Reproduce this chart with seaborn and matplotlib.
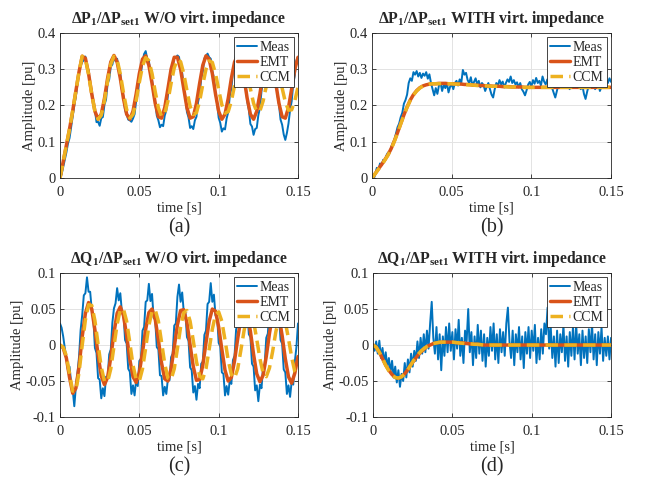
import numpy as np
import seaborn as sns
import matplotlib
matplotlib.use("Agg")
import matplotlib.pyplot as plt

sns.set_style("ticks")
plt.rcParams['font.family'] = ['Liberation Serif', 'DejaVu Serif']
plt.rcParams['mathtext.fontset'] = 'custom'
plt.rcParams['mathtext.rm'] = 'Liberation Serif'
plt.rcParams['mathtext.it'] = 'Liberation Serif:italic'
plt.rcParams['mathtext.bf'] = 'Liberation Serif:bold'

# sample spacing of the traces (s)
dt_meas = 0.001
dt_model = 0.002

# ---- (a) dP1 / dPset1 W/O virtual impedance ----
meas_a = [0.000, 0.010, 0.030, 0.050, 0.070, 0.095, 0.110, 0.140, 0.170, 0.200,
          0.225, 0.260, 0.290, 0.310, 0.320,
          0.325, 0.335, 0.308, 0.297, 0.257, 0.241, 0.202, 0.187, 0.154, 0.155,
          0.144, 0.165, 0.168, 0.202, 0.216, 0.260, 0.272, 0.307, 0.313, 0.335,
          0.322, 0.329, 0.300, 0.288, 0.244, 0.225, 0.187, 0.175, 0.161, 0.159,
          0.155, 0.164, 0.176, 0.213, 0.232, 0.273, 0.288, 0.321, 0.342, 0.350,
          0.328, 0.324, 0.288, 0.272, 0.229, 0.209, 0.172, 0.159, 0.140, 0.147,
          0.143, 0.172, 0.186, 0.228, 0.246, 0.288, 0.303, 0.333, 0.332, 0.338,
          0.334, 0.305, 0.290, 0.245, 0.224, 0.182, 0.167, 0.138, 0.143, 0.135,
          0.159, 0.169, 0.209, 0.230, 0.274, 0.293, 0.330, 0.337, 0.343, 0.333,
          0.329, 0.295, 0.276, 0.231, 0.206, 0.166, 0.152, 0.128, 0.137, 0.134,
          0.164, 0.181, 0.225, 0.247, 0.292, 0.310, 0.344, 0.346, 0.352, 0.332,
          0.322, 0.282, 0.258, 0.211, 0.188, 0.149, 0.142, 0.119, 0.135, 0.138,
          0.173, 0.193, 0.240, 0.266, 0.309, 0.326, 0.344, 0.343, 0.334, 0.328,
          0.299, 0.275, 0.229, 0.203, 0.161, 0.147, 0.120, 0.105, 0.124, 0.150,
          0.187, 0.211, 0.259, 0.283, 0.324, 0.334]
emt_a = [0.000, 0.045, 0.090, 0.135, 0.185, 0.240, 0.293, 0.336, 0.330, 0.288,
         0.232, 0.184, 0.162, 0.176, 0.219, 0.275, 0.320, 0.338, 0.320, 0.275,
         0.219, 0.176, 0.162, 0.184, 0.232, 0.288, 0.328, 0.337, 0.311, 0.261,
         0.206, 0.169, 0.165, 0.194, 0.246, 0.300, 0.333, 0.333, 0.300, 0.246,
         0.194, 0.165, 0.169, 0.206, 0.261, 0.311, 0.337, 0.328, 0.288, 0.232,
         0.184, 0.162, 0.176, 0.219, 0.275, 0.320, 0.338, 0.320, 0.275, 0.219,
         0.176, 0.162, 0.184, 0.232, 0.288, 0.328, 0.337, 0.311, 0.261, 0.206,
         0.169, 0.165, 0.194, 0.246, 0.300, 0.333]
ccm_a = [0.000, 0.045, 0.090, 0.135, 0.185, 0.240, 0.293, 0.336,
         0.328, 0.286, 0.231, 0.184, 0.162, 0.173, 0.213, 0.267, 0.314, 0.336,
         0.326, 0.287, 0.235, 0.189, 0.166, 0.175, 0.213, 0.264, 0.309, 0.332,
         0.324, 0.288, 0.238, 0.193, 0.170, 0.178, 0.212, 0.261, 0.304, 0.327,
         0.321, 0.288, 0.241, 0.198, 0.175, 0.180, 0.212, 0.258, 0.300, 0.323,
         0.319, 0.288, 0.244, 0.202, 0.179, 0.183, 0.212, 0.255, 0.296, 0.319,
         0.316, 0.288, 0.246, 0.206, 0.183, 0.185, 0.212, 0.253, 0.292, 0.315,
         0.313, 0.288, 0.248, 0.210, 0.187, 0.188, 0.213, 0.251]

# ---- (b) dP1 / dPset1 WITH virtual impedance ----
meas_b = [0.000, -0.004, 0.010, 0.028, 0.022, 0.040, 0.035, 0.050, 0.046, 0.062,
          0.070, 0.068, 0.085, 0.095, 0.105, 0.122, 0.140, 0.150, 0.168, 0.180,
          0.205, 0.215, 0.230, 0.262, 0.275, 0.268, 0.292, 0.285, 0.295, 0.280,
          0.290, 0.276, 0.288, 0.282, 0.292, 0.274, 0.286, 0.262, 0.245, 0.228,
          0.248, 0.232, 0.255, 0.262, 0.240, 0.258, 0.248, 0.262, 0.236, 0.252,
          0.258, 0.245, 0.262, 0.268, 0.255, 0.272, 0.262, 0.298, 0.285, 0.290,
          0.270, 0.262, 0.278, 0.255, 0.265, 0.275, 0.258, 0.268, 0.250, 0.262,
          0.256, 0.240, 0.252, 0.262, 0.245, 0.230, 0.222, 0.245, 0.262, 0.255,
          0.270, 0.258, 0.266, 0.250, 0.262, 0.272, 0.265, 0.280, 0.262, 0.270,
          0.258, 0.264, 0.250, 0.262, 0.245, 0.238, 0.228, 0.242, 0.258, 0.265,
          0.252, 0.270, 0.260, 0.276, 0.262, 0.268, 0.255, 0.280, 0.266, 0.258,
          0.272, 0.250, 0.262, 0.248, 0.235, 0.222, 0.240, 0.258, 0.266, 0.252,
          0.270, 0.262, 0.255, 0.268, 0.245, 0.262, 0.256, 0.270, 0.262, 0.250,
          0.260, 0.245, 0.255, 0.232, 0.218, 0.238, 0.255, 0.262, 0.248, 0.258,
          0.245, 0.256, 0.262, 0.240, 0.252, 0.265, 0.258, 0.270, 0.262, 0.275,
          0.265]
emt_b = [0.000, 0.012, 0.025, 0.037, 0.050, 0.064, 0.081, 0.102, 0.125, 0.150,
         0.174, 0.196, 0.215, 0.230, 0.241, 0.249, 0.254, 0.257, 0.259, 0.260,
         0.260, 0.261, 0.261, 0.261, 0.260, 0.260, 0.260, 0.259, 0.259, 0.258,
         0.258, 0.257, 0.256, 0.256, 0.255, 0.255, 0.254, 0.254, 0.253, 0.253,
         0.253, 0.252, 0.252, 0.252, 0.251, 0.251, 0.251, 0.251, 0.250, 0.250,
         0.250, 0.250, 0.250, 0.250, 0.250, 0.250, 0.250, 0.250, 0.250, 0.250,
         0.250, 0.250, 0.250, 0.250, 0.250, 0.250, 0.250, 0.250, 0.250, 0.250,
         0.250, 0.250, 0.250, 0.250, 0.250, 0.250]
ccm_b = [0.000, 0.012, 0.024, 0.036, 0.049, 0.063, 0.080, 0.101, 0.124, 0.149,
         0.173, 0.195, 0.214, 0.229, 0.240, 0.248, 0.254, 0.257, 0.259, 0.260,
         0.260, 0.260, 0.260, 0.260, 0.260, 0.260, 0.259, 0.259, 0.258, 0.258,
         0.257, 0.257, 0.256, 0.255, 0.255, 0.254, 0.254, 0.253, 0.253, 0.253,
         0.252, 0.252, 0.252, 0.251, 0.251, 0.251, 0.251, 0.250, 0.250, 0.250,
         0.250, 0.250, 0.250, 0.250, 0.250, 0.250, 0.250, 0.250, 0.250, 0.250,
         0.250, 0.250, 0.250, 0.250, 0.250, 0.250, 0.250, 0.250, 0.250, 0.250,
         0.250, 0.250, 0.250, 0.250, 0.250, 0.250]

# ---- (c) dQ1 / dPset1 W/O virtual impedance ----
meas_c = [0.030, 0.024, 0.012, -0.004, -0.018, -0.035, -0.030, -0.052, -0.062, -0.085,
          -0.058, -0.039, -0.016, 0.021, 0.042, 0.069, 0.072, 0.094, 0.074, 0.074,
          0.049, 0.037, -0.004, -0.011, -0.046, -0.048, -0.074, -0.060, -0.071, -0.044,
          -0.046, -0.013, -0.006, 0.031, 0.051, 0.058, 0.079, 0.062, 0.072, 0.046,
          0.044, 0.007, 0.002, -0.033, -0.037, -0.068, -0.056, -0.070, -0.048, -0.057,
          -0.022, -0.019, 0.020, 0.025, 0.060, 0.062, 0.085, 0.061, 0.071, 0.038,
          0.035, -0.003, -0.006, -0.042, -0.043, -0.070, -0.058, -0.068, -0.047, -0.049,
          -0.017, -0.012, 0.027, 0.030, 0.067, 0.084, 0.060, 0.073, 0.046, 0.046,
          0.011, 0.006, -0.031, -0.035, -0.066, -0.057, -0.076, -0.054, -0.060, -0.026,
          -0.023, 0.014, 0.020, 0.057, 0.060, 0.086, 0.060, 0.070, 0.041, 0.041,
          0.003, -0.002, -0.038, -0.040, -0.070, -0.057, -0.069, -0.049, -0.054, -0.021,
          -0.015, 0.022, 0.028, 0.065, 0.090, 0.070, 0.076, 0.049, 0.051, 0.015,
          0.011, -0.026, -0.030, -0.063, -0.056, -0.078, -0.055, -0.060, -0.030, -0.027,
          0.010, 0.016, 0.051, 0.058, 0.077, 0.060, 0.070, 0.044, 0.042, 0.007,
          0.002, -0.034, -0.038, -0.068, -0.056, -0.072, -0.051, -0.055, -0.023, -0.003,
          0.030]
emt_c = [0.000, -0.004, -0.018, -0.045, -0.067, -0.060, -0.030, 0.012, 0.044, 0.059,
         0.050, 0.021, -0.014, -0.043, -0.055, -0.045, -0.017, 0.017, 0.044, 0.053,
         0.041, 0.013, -0.020, -0.044, -0.052, -0.038, -0.010, 0.022, 0.045, 0.050,
         0.036, 0.007, -0.025, -0.047, -0.050, -0.033, -0.003, 0.028, 0.048, 0.049,
         0.031, 0.000, -0.030, -0.049, -0.048, -0.028, 0.003, 0.033, 0.050, 0.047,
         0.025, -0.006, -0.035, -0.050, -0.045, -0.022, 0.009, 0.037, 0.051, 0.044,
         0.019, -0.013, -0.040, -0.051, -0.042, -0.016, 0.016, 0.042, 0.051, 0.040,
         0.013, -0.019, -0.044, -0.053, -0.039, -0.016]
ccm_c = [0.000, -0.003, -0.015, -0.040, -0.064, -0.063, -0.038, 0.000, 0.035, 0.056,
         0.055, 0.034, 0.001, -0.031, -0.050, -0.051, -0.033, -0.002, 0.029, 0.049,
         0.050, 0.033, 0.003, -0.028, -0.048, -0.050, -0.033, -0.004, 0.027, 0.047,
         0.049, 0.033, 0.004, -0.026, -0.046, -0.048, -0.033, -0.005, 0.025, 0.045,
         0.048, 0.033, 0.006, -0.023, -0.043, -0.047, -0.033, -0.006, 0.022, 0.042,
         0.046, 0.033, 0.007, -0.021, -0.041, -0.046, -0.033, -0.007, 0.020, 0.040,
         0.045, 0.033, 0.008, -0.019, -0.039, -0.044, -0.032, -0.009, 0.018, 0.038,
         0.043, 0.032, 0.009, -0.017, -0.037, -0.043]

# ---- (d) dQ1 / dPset1 WITH virtual impedance ----
meas_d = [0.000, -0.008, 0.005, -0.012, 0.006, -0.018, -0.004, -0.025, -0.010, -0.030,
          -0.018, -0.038, -0.022, -0.045, -0.030, -0.052, -0.035, -0.058, -0.040, -0.050,
          -0.025, -0.045, -0.020, -0.038, -0.012, -0.030, -0.008, -0.022, 0.005, -0.018,
          0.010, -0.012, 0.015, -0.010, 0.020, -0.005, 0.030, 0.060, 0.010, -0.012,
          0.025, -0.020, 0.015, -0.035, 0.012, -0.015, 0.025, -0.010, 0.030, -0.008,
          0.018, -0.020, 0.022, -0.005, 0.035, -0.015, 0.010, -0.025, 0.020, 0.005,
          0.050, -0.010, 0.018, -0.028, 0.012, -0.018, 0.028, -0.012, 0.020, -0.022,
          0.015, -0.030, 0.010, -0.015, 0.025, -0.008, 0.030, -0.020, 0.015, -0.025,
          0.022, -0.010, 0.018, -0.015, 0.030, 0.052, 0.005, -0.018, 0.020, -0.028,
          0.015, -0.010, 0.025, -0.020, 0.012, -0.032, 0.018, -0.012, 0.025, -0.018,
          0.020, -0.008, 0.028, -0.025, 0.010, -0.020, 0.022, -0.012, 0.030, 0.015,
          0.052, -0.005, 0.025, -0.018, 0.012, -0.030, 0.020, -0.025, 0.015, -0.010,
          0.028, -0.022, 0.012, -0.030, 0.018, -0.015, 0.025, -0.020, 0.030, -0.012,
          0.015, -0.028, 0.020, -0.018, 0.012, -0.025, 0.022, -0.010, 0.030, -0.020,
          0.015, -0.028, 0.018, -0.012, 0.025, -0.022, 0.010, -0.015, 0.012, -0.020,
          0.010]
emt_d = [0.000, -0.003, -0.010, -0.019, -0.028, -0.035, -0.041, -0.045, -0.046, -0.044,
         -0.040, -0.034, -0.027, -0.021, -0.015, -0.010, -0.006, -0.002, 0.000, 0.002,
         0.003, 0.0035, 0.004, 0.004, 0.004, 0.004, 0.0035, 0.003, 0.003, 0.0025,
         0.002, 0.0015, 0.001, 0.001, 0.0005, 0.000, 0.000, 0.000, 0.000, 0.000,
         0.000, 0.000, 0.000, 0.000, 0.000, 0.000, 0.000, 0.000, 0.000, 0.000,
         0.000, 0.000, 0.000, 0.000, 0.000, 0.000, 0.000, 0.000, 0.000, 0.000,
         0.000, 0.000, 0.000, 0.000, 0.000, 0.000, 0.000, 0.000, 0.000, 0.000,
         0.000, 0.000, 0.000, 0.000, 0.000, 0.000]
ccm_d = [0.000, -0.003, -0.010, -0.019, -0.028, -0.036, -0.042, -0.045, -0.046, -0.044,
         -0.040, -0.034, -0.027, -0.020, -0.014, -0.009, -0.005, -0.002, 0.001, 0.002,
         0.003, 0.004, 0.004, 0.004, 0.004, 0.004, 0.0035, 0.003, 0.0025, 0.002,
         0.002, 0.0015, 0.001, 0.001, 0.0005, 0.000, 0.000, 0.000, 0.000, 0.000,
         0.000, 0.000, 0.000, 0.000, 0.000, 0.000, 0.000, 0.000, 0.000, 0.000,
         0.000, 0.000, 0.000, 0.000, 0.000, 0.000, 0.000, 0.000, 0.000, 0.000,
         0.000, 0.000, 0.000, 0.000, 0.000, 0.000, 0.000, 0.000, 0.000, 0.000,
         0.000, 0.000, 0.000, 0.000, 0.000, 0.000]

titles = [r'$\mathbf{\Delta P_1/\Delta P_{set1}}$ W/O virt. impedance',
          r'$\mathbf{\Delta P_1/\Delta P_{set1}}$ WITH virt. impedance',
          r'$\mathbf{\Delta Q_1/\Delta P_{set1}}$ W/O virt. impedance',
          r'$\mathbf{\Delta Q_1/\Delta P_{set1}}$ WITH virt. impedance']
panel_tags = ['(a)', '(b)', '(c)', '(d)']
series_names = ['Meas', 'EMT', 'CCM']
p_ticks = [0, 0.1, 0.2, 0.3, 0.4]
p_ticklabels = ['0', '0.1', '0.2', '0.3', '0.4']
q_ticks = [-0.1, -0.05, 0, 0.05, 0.1]
q_ticklabels = ['-0.1', '-0.05', '0', '0.05', '0.1']
t_ticks = [0, 0.05, 0.1, 0.15]
t_ticklabels = ['0', '0.05', '0.1', '0.15']

c_meas = '#0072BD'
c_emt = '#D95319'
c_ccm = '#EDB120'
dark = '#262626'

fig = plt.figure(figsize=(6.46, 4.83), dpi=100)
rects = [[0.0929, 0.6315, 0.3684, 0.3002],
         [0.5759, 0.6315, 0.3700, 0.3002],
         [0.0929, 0.1366, 0.3684, 0.2981],
         [0.5774, 0.1366, 0.3685, 0.2981]]
panels = [(meas_a, emt_a, ccm_a), (meas_b, emt_b, ccm_b),
          (meas_c, emt_c, ccm_c), (meas_d, emt_d, ccm_d)]

for i, (rect, (m, e, c)) in enumerate(zip(rects, panels)):
    ax = fig.add_axes(rect)
    tm = np.arange(len(m)) * dt_meas
    te = np.arange(len(e)) * dt_model
    tc = np.arange(len(c)) * dt_model
    sns.lineplot(x=tm, y=m, ax=ax, color=c_meas, lw=1.4, label=series_names[0])
    sns.lineplot(x=te, y=e, ax=ax, color=c_emt, lw=2.5, label=series_names[1])
    sns.lineplot(x=tc, y=c, ax=ax, color=c_ccm, lw=2.5, linestyle=(0, (3.6, 1.8)),
                 label=series_names[2])

    ax.set_xlim(0, 0.15)
    ax.set_xticks(t_ticks)
    ax.set_xticklabels(t_ticklabels)
    if i < 2:
        ax.set_ylim(0, 0.4)
        ax.set_yticks(p_ticks)
        ax.set_yticklabels(p_ticklabels)
    else:
        ax.set_ylim(-0.1, 0.1)
        ax.set_yticks(q_ticks)
        ax.set_yticklabels(q_ticklabels)

    ax.grid(True, color='#e3e3e3', lw=0.7)
    ax.set_axisbelow(True)
    ax.tick_params(direction='in', top=True, right=True, length=3, width=0.6,
                   colors=dark, labelsize=10.5)
    ax.tick_params(axis='x', pad=6)
    ax.tick_params(axis='y', pad=3)
    for s in ax.spines.values():
        s.set_visible(True)
        s.set_color(dark)
        s.set_linewidth(0.6)

    ax.set_xlabel('time [s]', fontsize=10.5, color=dark, labelpad=1.5)
    ax.set_ylabel('Amplitude [pu]', fontsize=10.5, color=dark, labelpad=1)
    ax.set_title(titles[i], fontsize=11.3, fontweight='bold', pad=7)

    leg = ax.legend(loc='upper right', fontsize=10, frameon=True, fancybox=False,
                    framealpha=1, edgecolor=dark, borderpad=0.25, labelspacing=0.15,
                    handlelength=1.4, handletextpad=0.2, borderaxespad=0.3)
    leg.get_frame().set_linewidth(0.6)

    x0, y0, w, h = rect
    fig.text(x0 + w / 2, y0 - 0.1035, panel_tags[i], ha='center', va='center', fontsize=14.5)

fig.savefig('out.png', dpi=100)
